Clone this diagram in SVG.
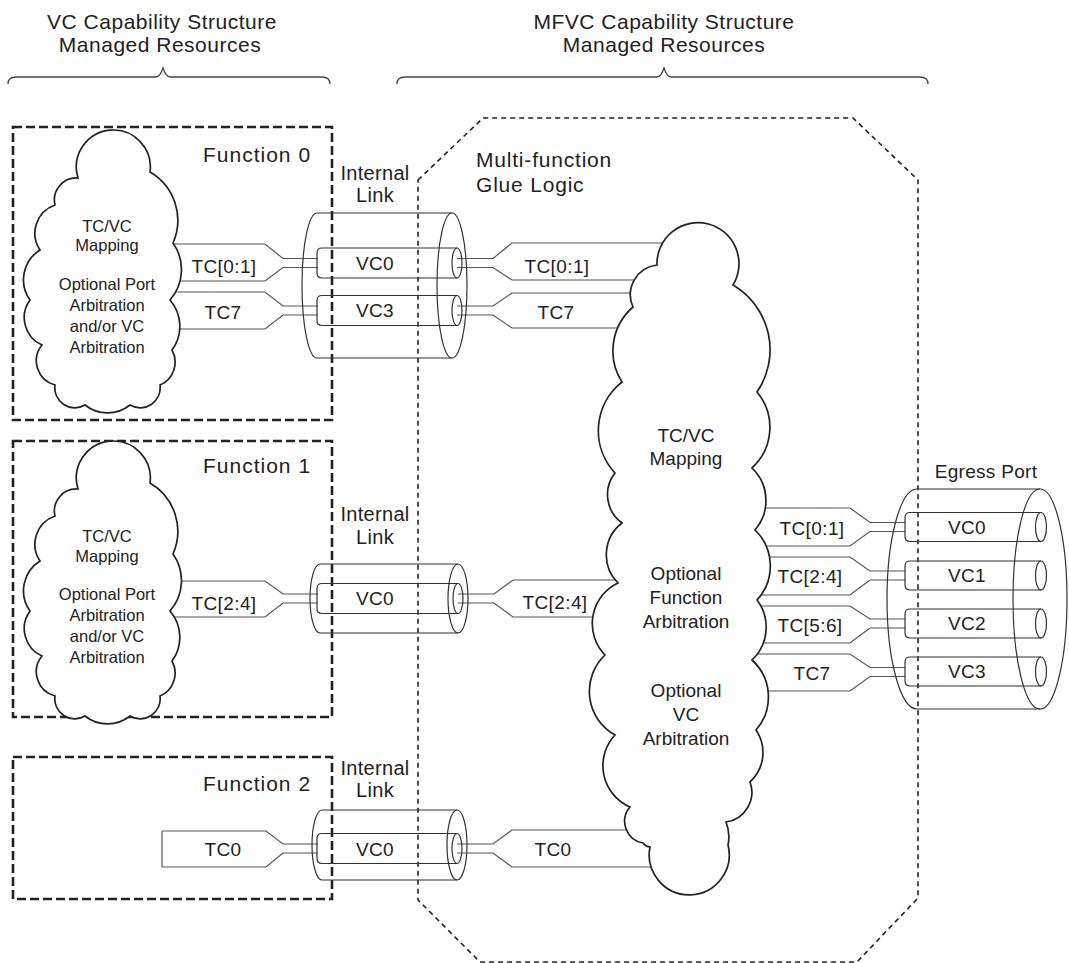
<svg xmlns="http://www.w3.org/2000/svg" width="1069" height="963" viewBox="0 0 1069 963">
<style>
text{font-family:"Liberation Sans",Arial,sans-serif;fill:#222}
.hdr{font-size:21px;letter-spacing:0.5px;text-anchor:middle}
.fn{font-size:21px;letter-spacing:1px}
.il{font-size:20px;text-anchor:middle;letter-spacing:0.3px}
.lbl{font-size:19px;text-anchor:middle;letter-spacing:0.4px}
.ct{font-size:16.5px;text-anchor:middle}
.bt{font-size:19px;text-anchor:middle}
.fbox{fill:none;stroke:#222;stroke-width:2.6;stroke-dasharray:9 4}
.oct{fill:none;stroke:#222;stroke-width:1.6;stroke-dasharray:5 4}
.brace{fill:none;stroke:#444;stroke-width:1.3}
.wire{fill:none;stroke:#555;stroke-width:1.2}
.tube{fill:none;stroke:#333;stroke-width:1.2}
.cloud{fill:#fff;stroke:#222;stroke-width:1.7}
</style>
<defs>
<path id="fcloud" d="M78,178 A37,37 0 1 1 150,172 A56,56 0 0 1 173,243 A46,46 0 0 1 170,300 A40,40 0 0 1 172,350 A25,25 0 0 1 160,385 A20,20 0 0 1 130,405 A36,36 0 0 1 85,405 A20,20 0 0 1 55,385 A25,25 0 0 1 42,345 A30,30 0 0 1 30,300 A35,35 0 0 1 40,250 A30,30 0 0 1 55,205 A22,22 0 0 1 78,178 Z"/>
</defs>

<g id="headers">
<text class="hdr" x="162" y="29">VC Capability Structure</text>
<text class="hdr" x="160" y="52">Managed Resources</text>
<path class="brace" d="M8,84 Q8,77 16,77 L156,77 Q160,77 163,68 Q166,77 170,77 L322,77 Q330,77 330,84"/>
<text class="hdr" x="664" y="29">MFVC Capability Structure</text>
<text class="hdr" x="664" y="52">Managed Resources</text>
<path class="brace" d="M397,84 Q397,77 405,77 L657,77 Q661,77 664,68 Q667,77 671,77 L920,77 Q928,77 928,84"/>
</g>

<g id="glue-logic">
<path class="oct" d="M418,180 L483,118 L853,118 L918,180 L918,898 L857,962 L480,962 L418,900 Z"/>
<text class="fn" x="476" y="167" style="letter-spacing:0.8px">Multi-function</text>
<text class="fn" x="476" y="192" style="letter-spacing:0.8px">Glue Logic</text>
</g>

<g id="connectors">
<!-- Function 0 left bands -->
<path class="wire" d="M140,244 L265,244 L283,258.5 L318,258.5 M140,281 L265,281 L283,267.5 L318,267.5"/>
<path class="wire" d="M140,292 L265,292 L283,306 L318,306 M140,329 L265,329 L283,315 L318,315"/>
<!-- Function 0 right bands -->
<path class="wire" d="M457,258.5 L493,258.5 L512,243 L690,243 M457,267.5 L493,267.5 L512,280 L690,280"/>
<path class="wire" d="M457,306 L493,306 L512,293 L690,293 M457,315 L493,315 L512,328 L690,328"/>
<!-- Function 1 bands -->
<path class="wire" d="M140,581 L265,581 L283,594 L318,594 M140,617 L265,617 L283,603 L318,603"/>
<path class="wire" d="M458,594 L494,594 L513,580 L660,580 M458,603 L494,603 L513,617 L660,617"/>
<!-- Function 2 bands -->
<path class="wire" d="M162,831 L266,831 L283,844 L318,844 M162,867 L266,867 L283,853 L318,853 M162,831 L162,867"/>
<path class="wire" d="M457,844 L493,844 L512,830 L680,830 M457,853 L493,853 L512,867 L680,867"/>
<!-- Egress bands -->
<path class="wire" d="M730,508 L850,508 L870,522.5 L905,522.5 M730,546 L850,546 L870,531.5 L905,531.5"/>
<path class="wire" d="M730,557 L850,557 L870,571 L905,571 M730,595 L850,595 L870,580 L905,580"/>
<path class="wire" d="M730,606 L850,606 L870,619 L905,619 M730,643 L850,643 L870,628 L905,628"/>
<path class="wire" d="M730,654 L850,654 L870,667.5 L905,667.5 M730,691 L850,691 L870,676.5 L905,676.5"/>
</g>

<g id="function0">
<rect class="fbox" x="13" y="127" width="319" height="293"/>
<text class="fn" x="203" y="162">Function 0</text>
<use href="#fcloud" class="cloud"/>
<text class="ct" x="107" y="232">TC/VC</text>
<text class="ct" x="107" y="251">Mapping</text>
<text class="ct" x="107" y="290">Optional Port</text>
<text class="ct" x="107" y="311">Arbitration</text>
<text class="ct" x="107" y="332">and/or VC</text>
<text class="ct" x="107" y="353">Arbitration</text>
<text class="lbl" x="224" y="273">TC[0:1]</text>
<text class="lbl" x="223" y="319">TC7</text>
</g>

<g id="function1">
<rect class="fbox" x="13" y="441" width="319" height="276"/>
<text class="fn" x="203" y="473">Function 1</text>
<use href="#fcloud" class="cloud" transform="translate(0,311)"/>
<text class="ct" x="107" y="542">TC/VC</text>
<text class="ct" x="107" y="562">Mapping</text>
<text class="ct" x="107" y="600">Optional Port</text>
<text class="ct" x="107" y="621">Arbitration</text>
<text class="ct" x="107" y="642">and/or VC</text>
<text class="ct" x="107" y="663">Arbitration</text>
<text class="lbl" x="224" y="610">TC[2:4]</text>
</g>

<g id="function2">
<rect class="fbox" x="13" y="757" width="319" height="142"/>
<text class="fn" x="203" y="791">Function 2</text>
<text class="lbl" x="223" y="856">TC0</text>
</g>

<g id="mfvc-cloud">
<path class="cloud" d="M657,265 A41,41 0 1 1 733,285 A75,75 0 0 1 757,392 A55,55 0 0 1 752,468 A45,45 0 0 1 755,530 A50,50 0 0 1 757,600 A45,45 0 0 1 752,660 A50,50 0 0 1 756,730 A40,40 0 0 1 750,782 A30,30 0 0 1 726,822 A40,40 0 0 1 728,845 A40,40 0 1 1 650,847 A10,10 0 0 1 643,843 A22,22 0 0 1 630,807 A45,45 0 0 1 615,735 A50,50 0 0 1 605,655 A45,45 0 0 1 618,583 A40,40 0 0 1 622,523 A35,35 0 0 1 615,473 A62,62 0 0 1 622,382 A58,58 0 0 1 633,307 A30,30 0 0 1 657,265 Z"/>
<text class="bt" x="686" y="442">TC/VC</text>
<text class="bt" x="686" y="465">Mapping</text>
<text class="bt" x="686" y="580">Optional</text>
<text class="bt" x="686" y="604">Function</text>
<text class="bt" x="686" y="628">Arbitration</text>
<text class="bt" x="686" y="697">Optional</text>
<text class="bt" x="686" y="721">VC</text>
<text class="bt" x="686" y="745">Arbitration</text>
<text class="lbl" x="557" y="273">TC[0:1]</text>
<text class="lbl" x="556" y="319">TC7</text>
<text class="lbl" x="555" y="609">TC[2:4]</text>
<text class="lbl" x="553" y="856">TC0</text>
<text class="lbl" x="812" y="535">TC[0:1]</text>
<text class="lbl" x="810" y="583">TC[2:4]</text>
<text class="lbl" x="810" y="632">TC[5:6]</text>
<text class="lbl" x="812" y="680">TC7</text>
</g>

<g id="link0">
<path class="tube" d="M317,213 A15,72.5 0 0 0 317,358 M317,213 L452,213 M317,358 L452,358"/>
<ellipse class="tube" cx="452" cy="285.5" rx="15" ry="72.5"/>
<path class="tube" d="M457,248 L322,248 Q317,248 317,253 L317,273 Q317,278 322,278 L457,278"/>
<ellipse class="tube" cx="457" cy="263" rx="5" ry="15"/>
<path class="tube" d="M457,295.5 L322,295.5 Q317,295.5 317,300.5 L317,320.5 Q317,325.5 322,325.5 L457,325.5"/>
<ellipse class="tube" cx="457" cy="310.5" rx="5" ry="15"/>
<text class="lbl" x="375" y="270">VC0</text>
<text class="lbl" x="375" y="317">VC3</text>
<text class="il" x="375" y="180">Internal</text>
<text class="il" x="375" y="202">Link</text>
</g>

<g id="link1">
<path class="tube" d="M320,564 A10,34.5 0 0 0 320,633 M320,564 L458,564 M320,633 L458,633"/>
<ellipse class="tube" cx="458" cy="598.5" rx="10" ry="34.5"/>
<path class="tube" d="M458,583.5 L322,583.5 Q317,583.5 317,588.5 L317,608.5 Q317,613.5 322,613.5 L458,613.5"/>
<ellipse class="tube" cx="458" cy="598.5" rx="5" ry="15"/>
<text class="lbl" x="375" y="605">VC0</text>
<text class="il" x="375" y="521">Internal</text>
<text class="il" x="375" y="544">Link</text>
</g>

<g id="link2">
<path class="tube" d="M322,810 A10,35 0 0 0 322,880 M322,810 L457,810 M322,880 L457,880"/>
<ellipse class="tube" cx="457" cy="845" rx="10" ry="35"/>
<path class="tube" d="M457,833.5 L322,833.5 Q317,833.5 317,838.5 L317,858.5 Q317,863.5 322,863.5 L457,863.5"/>
<ellipse class="tube" cx="457" cy="848.5" rx="5" ry="15"/>
<text class="lbl" x="375" y="856">VC0</text>
<text class="il" x="375" y="775">Internal</text>
<text class="il" x="375" y="797">Link</text>
</g>

<g id="egress-port">
<path class="tube" d="M917,489 A30,110 0 0 0 917,709 M917,489 L1040,489 M917,709 L1040,709"/>
<ellipse class="tube" cx="1040" cy="599" rx="27" ry="110"/>
<path class="tube" d="M1041,512.5 L910,512.5 Q905,512.5 905,517.5 L905,536.5 Q905,541.5 910,541.5 L1041,541.5"/>
<ellipse class="tube" cx="1041" cy="527" rx="5.5" ry="14.5"/>
<path class="tube" d="M1041,561 L910,561 Q905,561 905,566 L905,585 Q905,590 910,590 L1041,590"/>
<ellipse class="tube" cx="1041" cy="575.5" rx="5.5" ry="14.5"/>
<path class="tube" d="M1041,609 L910,609 Q905,609 905,614 L905,633 Q905,638 910,638 L1041,638"/>
<ellipse class="tube" cx="1041" cy="623.5" rx="5.5" ry="14.5"/>
<path class="tube" d="M1041,657 L910,657 Q905,657 905,662 L905,681 Q905,686 910,686 L1041,686"/>
<ellipse class="tube" cx="1041" cy="671.5" rx="5.5" ry="14.5"/>
<text class="lbl" x="967" y="534">VC0</text>
<text class="lbl" x="967" y="582">VC1</text>
<text class="lbl" x="967" y="630">VC2</text>
<text class="lbl" x="967" y="678">VC3</text>
<text class="il" x="986" y="478" style="font-size:19px">Egress Port</text>
</g>
</svg>
